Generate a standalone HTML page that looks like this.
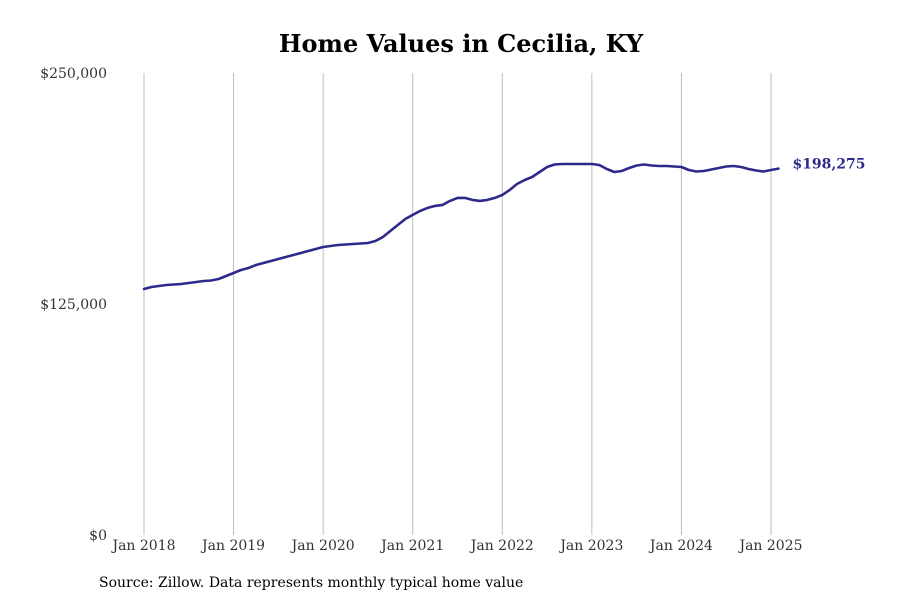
<!DOCTYPE html>
<html><head><meta charset="utf-8"><style>
body{margin:0;background:#fff;}
svg{display:block;font-family:"DejaVu Serif","Liberation Serif",serif;}
</style></head><body>
<svg id="chart" width="900" height="600">
<text x="461" y="52" text-anchor="middle" font-size="24" font-weight="bold" fill="#000">Home Values in Cecilia, KY</text>
<g id="grid"></g><g id="yticks"></g><g id="xticks"></g><g id="series"></g>
<text x="99" y="587" font-size="14" fill="#000">Source: Zillow. Data represents monthly typical home value</text>
</svg>
<script>
const startYear = 2018;
const values = [133120,134200,134740,135280,135550,135820,136360,136900,137450,137720,138530,140150,
141780,143400,144480,146100,147180,148270,149350,150430,151520,152600,153680,154760,
155840,156380,156920,157190,157470,157740,158010,159090,161250,164500,167750,170990,
173230,175360,176980,178070,178610,180770,182400,182400,181310,180770,181310,182400,
184020,186730,189970,192100,193720,196430,199140,200490,200760,200760,200760,200760,
200760,200220,198050,196430,196970,198590,199950,200490,199950,199680,199680,199410,
199140,197510,196700,196970,197780,198590,199410,199680,199140,198050,197240,196700,
197510,198275];
const xTickLabels = ["Jan 2018","Jan 2019","Jan 2020","Jan 2021","Jan 2022","Jan 2023","Jan 2024","Jan 2025"];
const yTickValues = [0,125000,250000];
const yTickLabels = ["$0","$125,000","$250,000"];

const NS="http://www.w3.org/2000/svg";
const x0=144, pxPerMonth=(771-144)/84;
const xScale=m=>x0+m*pxPerMonth;
const yScale=v=>535-v/250000*462;
function mk(tag,attrs,parent){const e=document.createElementNS(NS,tag);for(const k in attrs)e.setAttribute(k,attrs[k]);parent.appendChild(e);return e;}
const grid=document.getElementById('grid'),xt=document.getElementById('xticks'),yt=document.getElementById('yticks'),ser=document.getElementById('series');
xTickLabels.forEach((lab,i)=>{
  const x=xScale(i*12);
  const l=mk('line',{x1:x,x2:x,y1:73,y2:535,stroke:'#bdbdbd','stroke-width':1},grid);
  
  
  const t=mk('text',{x:x,y:550,'text-anchor':'middle','font-size':14,fill:'#333'},xt);
  t.textContent=lab;
  
  
});
yTickValues.forEach((v,i)=>{
  const t=mk('text',{x:107,y:yScale(v)+5,'text-anchor':'end','font-size':14,fill:'#333'},yt);
  t.textContent=yTickLabels[i];
  
  
});
const pts=values.map((v,i)=>xScale(i).toFixed(1)+','+yScale(v).toFixed(1)).join(' ');
const line=mk('polyline',{points:pts,fill:'none',stroke:'#2e2a8c','stroke-width':2.6,'stroke-linejoin':'round','stroke-linecap':'round'},ser);


const last=values[values.length-1];
const lbl=mk('text',{x:xScale(values.length-1)+14,y:yScale(last)+0,'font-size':14,'font-weight':'bold',fill:'#2e2a8c'},ser);
lbl.textContent='$'+last.toLocaleString('en-US');


</script>
</body></html>
